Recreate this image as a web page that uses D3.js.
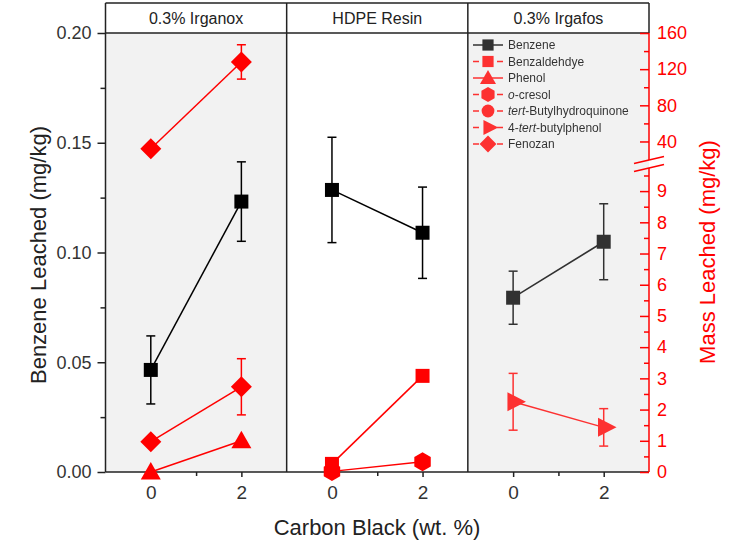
<!DOCTYPE html>
<html>
<head>
<meta charset="utf-8">
<script src="https://cdnjs.cloudflare.com/ajax/libs/d3/7.8.5/d3.min.js"></script>
<style>
body{margin:0;background:#fff;}
svg{font-family:"Liberation Sans",Arial,sans-serif;}
</style>
</head>
<body>
<svg id="chart" width="744" height="543"></svg>
<script>
// panels and x values
var panels = ["0.3% Irganox", "HDPE Resin", "0.3% Irgafos"];
var cbLevels = [0, 2];

// benzene leached, left axis (mg/kg), one row per panel
var benzeneVals = [[0.0465, 0.1232], [0.1285, 0.109], [0.0794, 0.1049]];
var benzeneErr  = [[0.0155, 0.0181], [0.024, 0.0208], [0.0121, 0.0173]];

// additive species, right axis (mg/kg)
var fenozanIrganox = [32, 128];
var fenozanIrganoxErr = [0, 19];
var fenozanLow = [0.97, 2.73];
var fenozanLowErr = [0, 0.9];
var phenolIrganox = [0.0, 1.0];
var benzaldehydeHdpe = [0.26, 3.08];
var cresolHdpe = [0.02, 0.33];
var butylphenolIrgafos = [2.25, 1.43];
var butylphenolIrgafosErr = [0.91, 0.6];

// legend
var legendNames = ["Benzene", "Benzaldehdye", "Phenol", "o-cresol", "tert-Butylhydroquinone", "4-tert-butylphenol", "Fenozan"];
var legendShapes = ["square", "square", "triangle", "hexagon", "circle", "triRight", "diamond"];

// axis ticks
var leftMajor = [0, 0.05, 0.10, 0.15, 0.20];
var leftMinor = [0.025, 0.075, 0.125, 0.175];
var rightLoMajor = [0, 1, 2, 3, 4, 5, 6, 7, 8, 9];
var rightLoMinor = [0.5, 1.5, 2.5, 3.5, 4.5, 5.5, 6.5, 7.5, 8.5, 9.5];
var rightHiMajor = [40, 80, 120, 160];
var rightHiMinor = [60, 100, 140];

var svg = d3.select("#chart");
var plotL = 105.5, plotR = 649, plotT = 33, plotB = 472, headT = 3;
var RED = "#ff0000", INK = "#222";

var xPanel = d3.scaleBand().domain(d3.range(panels.length)).range([plotL, plotR]).paddingInner(0);
var xIn = d3.scaleLinear().domain([-1, 3]).range([0, xPanel.bandwidth()]);
function xp(p, v){ return xPanel(p) + xIn(v); }

var yL = d3.scaleLinear().domain([0, 0.2]).range([plotB, plotT]);
var yLo = d3.scaleLinear().domain([0, 9.74]).range([plotB, 168]);
var yHi = d3.scaleLinear().domain([19.5, 160]).range([160, plotT]);
function yR(v){ return v <= 10 ? yLo(v) : yHi(v); }

// marker shapes, size = half width
var shapes = {
    square: {draw: function(c, r){ c.rect(-r, -r, 2*r, 2*r); }},
    diamond: {draw: function(c, r){ c.moveTo(0,-r); c.lineTo(r,0); c.lineTo(0,r); c.lineTo(-r,0); c.closePath(); }},
    triangle: {draw: function(c, r){ c.moveTo(0,-r); c.lineTo(r,0.75*r); c.lineTo(-r,0.75*r); c.closePath(); }},
    hexagon: {draw: function(c, r){
        for (var i = 0; i < 6; i++){
            var a = (-90 + 60*i) * Math.PI/180;
            if (i === 0) c.moveTo(r*Math.cos(a), r*Math.sin(a)); else c.lineTo(r*Math.cos(a), r*Math.sin(a));
        }
        c.closePath();
    }},
    circle: {draw: function(c, r){ c.moveTo(r,0); c.arc(0,0,r,0,2*Math.PI); }},
    triRight: {draw: function(c, r){ c.moveTo(-0.6*r,-r); c.lineTo(1.35*r,0); c.lineTo(-0.6*r,r); c.closePath(); }}
};
var shapeSize = {square: 7, diamond: 10.5, triangle: 10, hexagon: 9.5, circle: 8, triRight: 9.5};

// backgrounds
svg.append("g").selectAll("rect")
    .data([0, 2])
    .enter().append("rect")
    .attr("x", function(d){ return xPanel(d); })
    .attr("y", plotT)
    .attr("width", xPanel.bandwidth())
    .attr("height", plotB - plotT)
    .attr("fill", "#f2f2f2");

// header strip
var head = svg.append("g");
head.selectAll("text")
    .data(panels)
    .enter().append("text")
    .attr("x", function(d, i){ return xPanel(i) + xPanel.bandwidth()/2; })
    .attr("y", (headT + plotT)/2)
    .attr("dy", "0.36em")
    .attr("text-anchor", "middle")
    .attr("font-size", 16)
    .attr("fill", INK)
    .text(function(d){ return d; });

// frame
var frame = svg.append("g").attr("stroke", INK).attr("stroke-width", 1.5).attr("fill", "none");
frame.append("line").attr("x1", plotL).attr("x2", plotR).attr("y1", headT).attr("y2", headT);
frame.append("line").attr("x1", plotL).attr("x2", plotR).attr("y1", plotT).attr("y2", plotT);
frame.append("line").attr("x1", plotL).attr("x2", plotR).attr("y1", plotB).attr("y2", plotB);
frame.append("line").attr("x1", plotL).attr("x2", plotL).attr("y1", headT).attr("y2", plotB);
frame.append("line").attr("x1", plotR).attr("x2", plotR).attr("y1", headT).attr("y2", plotT);
[1, 2].forEach(function(p){
    frame.append("line").attr("x1", xPanel(p)).attr("x2", xPanel(p)).attr("y1", headT).attr("y2", plotB);
});

// left axis
var gl = svg.append("g").attr("transform", "translate(" + plotL + ",0)");
gl.call(d3.axisLeft(yL).tickValues(leftMajor).tickFormat(d3.format(".2f")).tickSize(8).tickPadding(6));
gl.append("g").call(d3.axisLeft(yL).tickValues(leftMinor).tickFormat("").tickSize(5));
gl.selectAll(".domain").remove();
gl.selectAll("line").attr("stroke", INK).attr("stroke-width", 1.5);
gl.selectAll("text").attr("font-size", 18).attr("fill", "#333").attr("font-family", null);

// bottom axis, per panel
panels.forEach(function(name, p){
    var g = svg.append("g").attr("transform", "translate(" + xPanel(p) + "," + plotB + ")");
    g.call(d3.axisBottom(xIn).tickValues(cbLevels).tickFormat(d3.format("d")).tickSize(5).tickPadding(9));
    g.append("g").call(d3.axisBottom(xIn).tickValues([1]).tickFormat("").tickSize(4));
    g.selectAll(".domain").remove();
    g.selectAll("line").attr("stroke", INK).attr("stroke-width", 1.5);
    g.selectAll("text").attr("font-size", 19).attr("fill", "#333").attr("font-family", null);
});

// right axis (broken)
var gr = svg.append("g").attr("transform", "translate(" + plotR + ",0)");
gr.append("g").call(d3.axisRight(yLo).tickValues(rightLoMajor).tickSize(-9).tickPadding(8));
gr.append("g").call(d3.axisRight(yLo).tickValues(rightLoMinor).tickFormat("").tickSize(-5));
gr.append("g").call(d3.axisRight(yHi).tickValues(rightHiMajor).tickSize(-9).tickPadding(8));
gr.append("g").call(d3.axisRight(yHi).tickValues(rightHiMinor).tickFormat("").tickSize(-5));
gr.selectAll(".domain").remove();
gr.selectAll("line").attr("stroke", RED).attr("stroke-width", 1.5);
gr.selectAll("text").attr("font-size", 18).attr("fill", RED).attr("font-family", null);
gr.append("line").attr("x1", 0).attr("x2", 0).attr("y1", yLo.range()[0]).attr("y2", yLo.range()[1])
    .attr("stroke", RED).attr("stroke-width", 1.5);
gr.append("line").attr("x1", 0).attr("x2", 0).attr("y1", yHi.range()[0]).attr("y2", yHi.range()[1])
    .attr("stroke", RED).attr("stroke-width", 1.5);
[yHi.range()[0], yLo.range()[1]].forEach(function(yb){
    gr.append("line").attr("x1", -15).attr("x2", 15).attr("y1", yb + 3.6).attr("y2", yb - 3.6)
        .attr("stroke", RED).attr("stroke-width", 1.5);
});

// axis titles
svg.append("text")
    .attr("transform", "translate(38," + 255 + ") rotate(-90)")
    .attr("dy", "0.35em")
    .attr("text-anchor", "middle")
    .attr("font-size", 22)
    .attr("fill", INK)
    .text("Benzene Leached (mg/kg)");
svg.append("text")
    .attr("transform", "translate(707," + 252 + ") rotate(-90)")
    .attr("dy", "0.35em")
    .attr("text-anchor", "middle")
    .attr("font-size", 22)
    .attr("fill", RED)
    .text("Mass Leached (mg/kg)");
svg.append("text")
    .attr("x", 377)
    .attr("y", 535)
    .attr("text-anchor", "middle")
    .attr("font-size", 22)
    .attr("fill", INK)
    .text("Carbon Black (wt. %)");

// build series table
var series = [];
benzeneVals.forEach(function(v, p){
    series.push({panel: p, vals: v, err: benzeneErr[p], shape: "square", color: "#000", y: yL});
});
series.push({panel: 0, vals: fenozanIrganox, err: fenozanIrganoxErr, shape: "diamond", color: RED, y: yR});
series.push({panel: 0, vals: fenozanLow, err: fenozanLowErr, shape: "diamond", color: RED, y: yR});
series.push({panel: 0, vals: phenolIrganox, err: null, shape: "triangle", color: RED, y: yR});
series.push({panel: 1, vals: cresolHdpe, err: null, shape: "hexagon", color: RED, y: yR});
series.push({panel: 1, vals: benzaldehydeHdpe, err: null, shape: "square", color: RED, y: yR});
series.push({panel: 2, vals: butylphenolIrgafos, err: butylphenolIrgafosErr, shape: "triRight", color: RED, y: yR});

var dataG = [0, 1, 2].map(function(p){
    return svg.append("g").attr("opacity", p === 2 ? 0.8 : 1);
});

series.forEach(function(s){
    var g = dataG[s.panel];
    var pts = cbLevels.map(function(x, i){ return {x: x, v: s.vals[i], e: s.err ? s.err[i] : 0}; });
    g.append("path")
        .datum(pts)
        .attr("fill", "none")
        .attr("stroke", s.color)
        .attr("stroke-width", 1.5)
        .attr("d", d3.line().x(function(d){ return xp(s.panel, d.x); }).y(function(d){ return s.y(d.v); }));
    pts.filter(function(d){ return d.e > 0; }).forEach(function(d){
        var cx = xp(s.panel, d.x), y1 = s.y(d.v + d.e), y2 = s.y(d.v - d.e);
        var eb = g.append("g").attr("stroke", s.color).attr("stroke-width", 1.5);
        eb.append("line").attr("x1", cx).attr("x2", cx).attr("y1", y1).attr("y2", y2);
        eb.append("line").attr("x1", cx - 4.5).attr("x2", cx + 4.5).attr("y1", y1).attr("y2", y1);
        eb.append("line").attr("x1", cx - 4.5).attr("x2", cx + 4.5).attr("y1", y2).attr("y2", y2);
    });
    g.selectAll(null)
        .data(pts)
        .enter().append("path")
        .attr("transform", function(d){ return "translate(" + xp(s.panel, d.x) + "," + s.y(d.v) + ")"; })
        .attr("d", d3.symbol().type(shapes[s.shape]).size(shapeSize[s.shape]))
        .attr("fill", s.color);
});

// legend
var leg = dataG[2].append("g").attr("transform", "translate(473,45)");
var row = leg.selectAll("g")
    .data(legendNames)
    .enter().append("g")
    .attr("transform", function(d, i){ return "translate(0," + (i * 16.5) + ")"; });
row.append("line")
    .attr("x1", 0).attr("x2", 30)
    .attr("stroke", function(d, i){ return i === 0 ? "#000" : RED; })
    .attr("stroke-width", 1.5)
    .attr("stroke-dasharray", function(d, i){ return (i === 0 || i === 2) ? null : "6,18"; });
row.append("path")
    .attr("transform", "translate(15,0)")
    .attr("d", function(d, i){ var s = legendShapes[i]; return d3.symbol().type(shapes[s]).size(shapeSize[s] * 0.8)(); })
    .attr("fill", function(d, i){ return i === 0 ? "#000" : RED; });
var lt = row.append("text")
    .attr("x", 35)
    .attr("dy", "0.35em")
    .attr("font-size", 12)
    .attr("fill", "#000");
lt.each(function(d){
    var t = d3.select(this);
    var m = d.match(/^(4-)?(o|tert)(-.*)$/);
    if (!m) { t.text(d); return; }
    if (m[1]) t.append("tspan").text(m[1]);
    t.append("tspan").attr("font-style", "italic").text(m[2]);
    t.append("tspan").text(m[3]);
});
</script>
</body>
</html>
